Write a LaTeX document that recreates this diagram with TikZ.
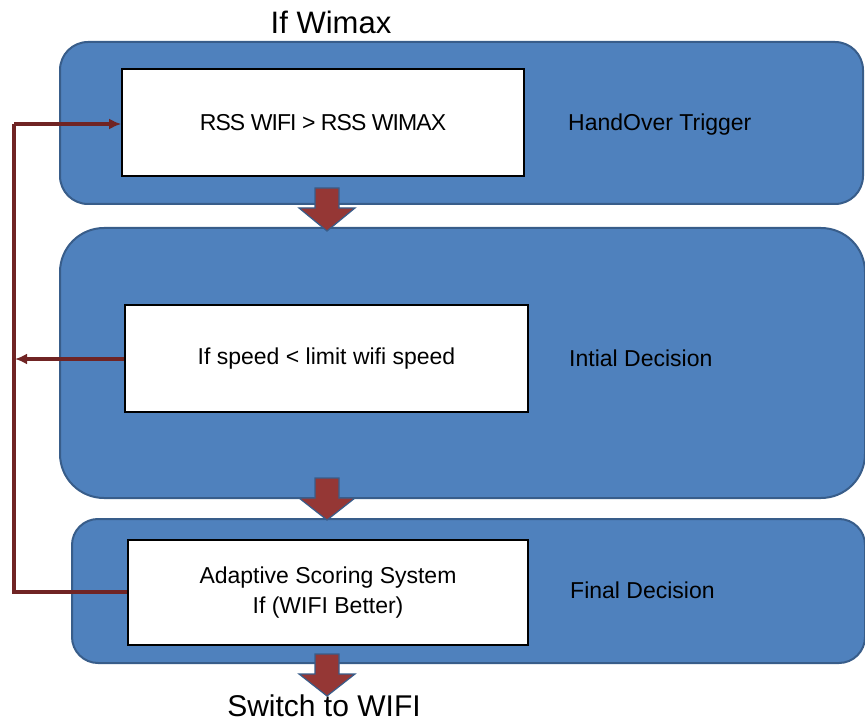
\documentclass[tikz,border=0pt]{standalone}
\usepackage{fontspec}
\setmainfont{Liberation Sans}
\newfontfamily\tightfont[LetterSpace=-4]{Liberation Sans}
\usetikzlibrary{arrows.meta}
\definecolor{panelfill}{RGB}{79,129,189}
\definecolor{paneldraw}{RGB}{56,93,138}
\definecolor{arrowfill}{RGB}{149,55,53}
\definecolor{linkcol}{RGB}{112,36,36}
\begin{document}
\begin{tikzpicture}[x=1pt,y=-1pt,
  panel/.style={fill=panelfill,draw=paneldraw,line width=2pt},
  whitebox/.style={fill=white,draw=black,line width=1.6pt,inner sep=0pt,minimum width=402pt,minimum height=107pt,align=center,font=\fontsize{23}{30}\selectfont},
  sidelabel/.style={anchor=west,inner sep=0pt,font=\fontsize{23}{26}\selectfont},
  biglabel/.style={inner sep=0pt,font=\fontsize{30}{32}\selectfont},
  blockarrow/.style={fill=arrowfill,draw=paneldraw,line width=1.2pt,line join=miter},
  link/.style={draw=linkcol,line width=3.4pt},
  linkarrow/.style={link,-{Latex[length=12pt,width=11pt]}}]
\useasboundingbox (0,0) rectangle (865,722);
% panels
\draw[panel,rounded corners=28pt] (60,42) rectangle (863,204);
\node[biglabel,font=\fontsize{31}{32}\selectfont] (top) at (331,22) {If Wimax};
\draw[panel,rounded corners=44pt] (60,228) rectangle (865,498);
\draw[blockarrow] (315,188) -- (339,188) -- (339,208) -- (355,208) -- (327,231) -- (299,208) -- (315,208) -- cycle;
\draw[panel,rounded corners=26pt] (72,519) rectangle (865,663);
\draw[blockarrow] (315,478) -- (339,478) -- (339,498) -- (355,498) -- (327,520) -- (299,498) -- (315,498) -- cycle;
\draw[blockarrow] (315,654) -- (339,654) -- (339,674) -- (355,674) -- (327,696) -- (299,674) -- (315,674) -- cycle;
% boxes
\node[whitebox] (b1) at (323,122.5) {\tightfont RSS WIFI > RSS WIMAX};
\node[whitebox,minimum width=403pt] (b2) at (326.5,358.5) {If speed < limit wifi speed};
\node[whitebox,minimum width=400pt,minimum height=105pt] (b3) at (328,592.5) {Adaptive Scoring System\\If (WIFI Better)};
% side labels
\node[sidelabel] (l1) at (568,125) {HandOver Trigger};
\node[sidelabel] (l2) at (569,358) {Intial Decision};
\node[sidelabel] (l3) at (570,590) {Final Decision};
\node[biglabel] (bottom) at (324,706) {Switch to WIFI};
% connectors
\coordinate (c1) at (14,124);
\coordinate (c2) at (15,359);
\coordinate (c3) at (14,592);
\draw[link] (b3.west |- c3) -- (c3) -- (c1);
\draw[linkarrow] (c1) -- (b1.west |- c1);
\draw[linkarrow] (b2.west |- c2) -- (c2);
\end{tikzpicture}
\end{document}
